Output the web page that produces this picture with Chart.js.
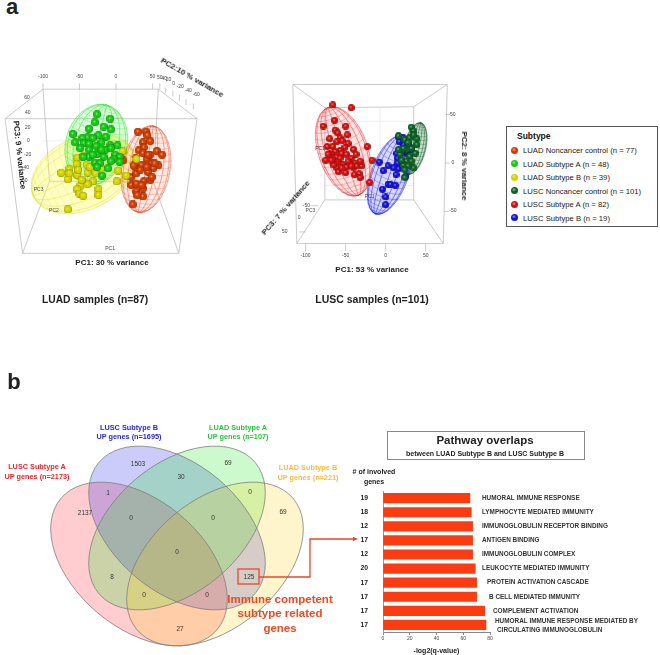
<!DOCTYPE html>
<html>
<head>
<meta charset="utf-8">
<script src="https://cdn.jsdelivr.net/npm/chart.js@4"></script>
<style>
  html, body { margin: 0; padding: 0; background: #fff; }
  body { width: 660px; height: 655px; position: relative; overflow: hidden; font-family: 'Liberation Sans', Arial, sans-serif; }
  canvas { position: absolute; }
  .t { position: absolute; white-space: nowrap; font-weight: bold; transform: translate(-50%, -50%); color: #222; line-height: 1; }
  #legend { position: absolute; left: 506px; top: 126px; width: 152px; height: 101px; border: 1px solid #555; box-sizing: border-box; }
  #legend b { position: absolute; left: 10px; top: 4px; font-size: 8.5px; color: #111; }
  .row { position: absolute; font-size: 7.7px; color: #222; white-space: nowrap; left: 16px; }
  .dot { position: absolute; left: 4px; width: 7px; height: 7px; border-radius: 50%; }
  #pathwayBox { position: absolute; left: 387px; top: 431px; width: 198px; height: 29px; border: 1px solid #888; box-sizing: border-box; }
</style>
</head>
<body>
<canvas id="luad" width="240" height="220" style="left:0;top:60px"></canvas>
<canvas id="lusc" width="240" height="240" style="left:240px;top:70px"></canvas>
<canvas id="venn" width="360" height="285" style="left:0;top:370px"></canvas>
<canvas id="bars" width="310" height="175" style="left:350px;top:480px"></canvas>
<div id="legend"><b>Subtype</b></div>
<div id="pathwayBox"></div>
<div id="labels"></div>
<script>
// PC scores: [PC1, vertical PC]
const luadControl = [[30,13],[41,13],[43,8],[47,0],[37,-2],[38,-9],[31,-13],[56,-14],[63,-19],[47,-19],[37,-17],[27,-24],[42,-25],[10,-27],[49,-31],[58,-34],[51,-38],[44,-43],[35,-33],[21,-50],[28,-45],[38,-56],[47,-54],[21,-61],[28,-70],[37,-77],[29,-75],[37,-66],[26,-36],[23,-88],[42,-36],[49,-50],[33,-40],[24,-34],[28,-59],[35,-61],[44,-19],[53,-31]]
const luadSubtypeA = [[-26,37],[-8,31],[-29,26],[-17,20],[-37,17],[-7,16],[-59,10],[-24,8],[-39,5],[-14,6],[-56,-2],[-46,4],[-32,4],[-44,-3],[-37,-4],[-20,-2],[-8,-6],[2,-6],[-27,-7],[-49,-10],[-37,-12],[-15,-12],[-26,-18],[-7,-10],[-17,-22],[-1,-19],[5,-22],[-29,-30],[-22,-31],[-3,-25],[-37,-22],[-11,-38],[5,-29],[-45,-22],[-19,-48],[-26,-36],[-7,-28],[-32,-19],[-20,-12]]
const luadSubtypeB = [[-75,-44],[-64,-39],[-53,-47],[-66,-53],[-64,-45],[-53,-23],[-45,-21],[-54,-32],[-40,-33],[-52,-40],[-39,-44],[-28,-45],[-32,-56],[-39,-60],[-49,-62],[-53,-67],[-50,-73],[-45,-76],[-24,-67],[-24,-75],[-66,-95],[1,-56],[14,-48],[9,-14],[28,-25],[3,-41],[-20,-38],[-47,-54],[-36,-36]]
const luscControl = [[16,28],[32,37],[35,33],[39,25],[24,24],[30,26],[39,19],[32,15],[26,14],[18,9],[30,7],[26,2],[22,-2],[35,-5],[24,-15],[28,21],[37,10],[22,15],[32,2],[20,3],[16,14],[28,-3],[24,-7],[35,29]]
const luscSubtypeA = [[-66,60],[-43,57],[-64,44],[-78,38],[-50,38],[-63,34],[-60,31],[-48,29],[-57,26],[-70,25],[-61,22],[-54,23],[-47,20],[-73,17],[-66,17],[-51,16],[-57,13],[-63,12],[-70,10],[-40,14],[-23,17],[-75,3],[-68,9],[-61,6],[-55,10],[-49,9],[-43,5],[-37,9],[-65,3],[-59,2],[-53,-2],[-45,-2],[-38,0],[-30,-3],[-61,-5],[-49,-4],[-40,-5],[-59,-9],[-50,-10],[-39,-12],[-33,-11],[-32,-15],[-17,3],[-20,-20],[-65,-2],[-47,2],[-36,-3],[-55,-5],[-68,3],[-43,-3],[-72,9],[-57,5],[-32,2]]
const luscSubtypeB = [[16,27],[22,26],[30,17],[14,10],[15,5],[15,0],[-8,1],[3,-3],[10,-5],[-3,-8],[16,-6],[13,-12],[25,-14],[3,-22],[6,-22],[12,-23],[-4,-27],[0,-35],[0,-43],[22,19],[26,10],[32,14],[17,22],[24,12]]

const legendNames = ['LUAD Noncancer control (n = 77)', 'LUAD Subtype A (n = 48)', 'LUAD Subtype B (n = 39)', 'LUSC Noncancer control (n = 101)', 'LUSC Subtype A (n = 82)', 'LUSC Subtype B (n = 19)']

const vennCounts = [1503, 69, 1, 30, 0, 2137, 0, 0, 69, 0, 8, 125, 0, 0, 27]

const pathways = ['HUMORAL IMMUNE RESPONSE', 'LYMPHOCYTE MEDIATED IMMUNITY', 'IMMUNOGLOBULIN RECEPTOR BINDING', 'ANTIGEN BINDING', 'IMMUNOGLOBULIN COMPLEX', 'LEUKOCYTE MEDIATED IMMUNITY', 'PROTEIN ACTIVATION CASCADE', 'B CELL MEDIATED IMMUNITY', 'COMPLEMENT ACTIVATION', 'HUMORAL IMMUNE RESPONSE MEDIATED BY']
const involvedGenes = [19, 18, 12, 17, 12, 20, 17, 17, 17, 17]
const logQ = [65, 66, 67, 67, 67, 69, 70, 70, 76, 77]

// layout and styling from here on
const colors = { orange: '#d23e00', green: '#14c814', yellow: '#d4d400', dark: '#0c6424', red: '#d01010', blue: '#1414d0' }

function mix (hex, f, toward) {
  const n = parseInt(hex.slice(1), 16)
  const ch = [n >> 16, (n >> 8) & 255, n & 255].map(v => Math.round(v + (toward - v) * f))
  return 'rgb(' + ch.join(',') + ')'
}

function sphere (color, size) {
  const c = document.createElement('canvas')
  c.width = c.height = size
  const g = c.getContext('2d')
  const r = size / 2
  const grad = g.createRadialGradient(r * 0.85, r * 0.8, 0.2, r, r, r)
  grad.addColorStop(0, mix(color, 0.55, 255))
  grad.addColorStop(0.35, color)
  grad.addColorStop(0.8, color)
  grad.addColorStop(1, mix(color, 0.4, 0))
  g.fillStyle = grad
  g.beginPath()
  g.arc(r, r, r, 0, Math.PI * 2)
  g.fill()
  return c
}

function mesh (ctx, e, cx, cy, a, b) {
  ctx.save()
  ctx.translate(cx, cy)
  ctx.rotate(e.tilt * Math.PI / 180)
  // long axis is the vertical one before the tilt
  ctx.beginPath()
  ctx.ellipse(0, 0, b, a, 0, 0, Math.PI * 2)
  ctx.fillStyle = e.fill
  ctx.fill()
  ctx.strokeStyle = e.line
  ctx.lineWidth = 0.5
  for (let i = 0; i <= 8; i++) {
    const k = Math.cos(i * Math.PI / 8)
    ctx.beginPath()
    ctx.ellipse(0, 0, Math.abs(b * k) + 0.01, a, 0, 0, Math.PI * 2)
    ctx.stroke()
  }
  for (let i = -9; i <= 9; i++) {
    const lat = i * Math.PI / 20
    ctx.beginPath()
    for (let t = 0; t <= 20; t++) {
      const s = -Math.PI / 2 + t * Math.PI / 20
      const px = b * Math.cos(lat) * Math.sin(s)
      const py = a * Math.sin(lat) + 0.12 * a * Math.cos(lat) * Math.cos(s)
      if (t === 0) ctx.moveTo(px, py); else ctx.lineTo(px, py)
    }
    ctx.stroke()
  }
  ctx.restore()
}

// draws the perspective box, mesh ellipsoids and the little tick labels behind the spheres
const boxPlugin = {
  id: 'box3d',
  beforeDatasetsDraw (chart, args, opts) {
    const ctx = chart.ctx
    const sx = chart.scales.x
    const sy = chart.scales.y
    const X = v => sx.getPixelForValue(v)
    const Y = v => sy.getPixelForValue(v)
    const unit = Math.abs(X(1) - X(0))
    ctx.save()
    ctx.lineWidth = 0.7
    ctx.strokeStyle = '#e4e6ea'
    opts.grid.forEach(l => {
      ctx.beginPath(); ctx.moveTo(X(l[0]), Y(l[1])); ctx.lineTo(X(l[2]), Y(l[3])); ctx.stroke()
    })
    ctx.strokeStyle = '#b5b5b5'
    opts.edges.forEach(l => {
      ctx.beginPath(); ctx.moveTo(X(l[0]), Y(l[1])); ctx.lineTo(X(l[2]), Y(l[3])); ctx.stroke()
    })
    opts.ellipses.forEach(e => mesh(ctx, e, X(e.c[0]), Y(e.c[1]), e.major * unit, e.minor * unit))
    ctx.font = '5px "Liberation Sans"'
    ctx.fillStyle = '#444'
    ctx.textAlign = 'center'
    ctx.textBaseline = 'middle'
    opts.ticks.forEach(t => ctx.fillText(t[0], X(t[1]), Y(t[2])))
    ctx.restore()
  }
}

function sphereSet (points, color, size) {
  return {
    data: points.map(p => ({ x: p[0], y: p[1] })),
    pointStyle: sphere(color, size),
    pointRadius: size / 2,
    showLine: false
  }
}

function plot3d (id, xRange, yRange, datasets, box) {
  return new Chart(document.getElementById(id), {
    type: 'scatter',
    data: { datasets: datasets },
    options: {
      responsive: false,
      animation: false,
      layout: { padding: 0, autoPadding: false },
      plugins: { legend: { display: false }, tooltip: { enabled: false }, box3d: box },
      scales: {
        x: { display: false, min: xRange[0], max: xRange[1] },
        y: { display: false, min: yRange[0], max: yRange[1] }
      }
    },
    plugins: [boxPlugin]
  })
}

plot3d('luad', [-158.9, 169.9], [-193, 112.5], [
  sphereSet(luadSubtypeA, colors.green, 8),
  sphereSet(luadSubtypeB, colors.yellow, 8),
  sphereSet(luadControl, colors.orange, 8)
], {
  edges: [[-152,31,111,31],[-152,31,-128,-156],[111,31,86,-156],[-128,-156,86,-156],[-152,31,-100,72],[111,31,58,72],[-100,72,58,72],[-128,-156,-91,-56],[86,-156,51,-56],[-91,-56,51,-56],[-100,72,-91,-56],[58,72,51,-56],
    [-100,72,-100,80],[-50,72,-50,80],[0,72,0,80],[50,72,50,80],[60,72,60,80],[68,66,68,74],[78,62,78,70],[87,56,87,64],[96,50,96,58],[106,44,106,52]],
  grid: [[0,72,0,-56],[-50,72,-50,-56],[-100,0,58,0]],
  ellipses: [
    { c: [-45, -45], major: 75, minor: 50, tilt: 65, fill: 'rgba(255,255,40,0.28)', line: 'rgba(225,225,60,0.45)' },
    { c: [-27, -5], major: 56, minor: 42, tilt: 15, fill: 'rgba(60,255,60,0.2)', line: 'rgba(60,225,60,0.55)' },
    { c: [41, -39], major: 60, minor: 33, tilt: 10, fill: 'rgba(255,90,50,0.12)', line: 'rgba(240,70,40,0.5)' }
  ],
  ticks: [['-100',-100,90],['-50',-50,90],['0',0,90],['50',50,90],['50',60,88],['40',66,87],['20',72,85],['0',79,80],['-20',88,75],['-40',99,70],['-60',110,64],
    ['60',-122,60],['40',-121,39],['20',-121,19],['0',-120,0],['-20',-121,-19],['-40',-124,-37],['-60',-126,-55],
    ['PC3',-106,-67],['PC2',-85,-97],['PC1',-8,-149]]
})

plot3d('lusc', [-182, 117.9], [-151.5, 95.9], [
  sphereSet(luscControl, colors.dark, 7),
  sphereSet(luscSubtypeB, colors.blue, 7),
  sphereSet(luscSubtypeA, colors.red, 7)
], {
  edges: [[-116,81,77,81],[-116,81,-111,-83],[77,81,72,-83],[-111,-83,72,-83],[-116,81,-76,57],[77,81,35,58],[-76,57,35,58],[-111,-83,-76,-38],[72,-83,35,-38],[-76,-38,35,-38],[-76,57,-76,-38],[35,58,35,-38],
    [-100,-83,-100,-91],[-50,-83,-50,-91],[0,-83,0,-91],[50,-83,50,-91],[75,50,81,50],[74,0,80,0],[73,-50,79,-50],[-94,-44,-84,-44],[-108,-71,-100,-71]],
  grid: [[-7,57,-7,-38],[-47,57,-47,-38],[33,43,-76,43],[-76,-23,35,-23]],
  ellipses: [
    { c: [36, 15], major: 33, minor: 14, tilt: 14, fill: 'rgba(20,110,40,0.25)', line: 'rgba(10,90,30,0.5)' },
    { c: [5, -12], major: 52, minor: 23, tilt: 20, fill: 'rgba(60,60,255,0.2)', line: 'rgba(30,30,235,0.55)' },
    { c: [-53, 12], major: 58, minor: 31, tilt: -19, fill: 'rgba(255,60,60,0.15)', line: 'rgba(235,40,40,0.5)' }
  ],
  ticks: [['-100',-100,-95.5],['-50',-50,-95.5],['0',0,-95.5],['50',50,-95.5],['50',84,50],['0',84,0],['-50',84,-49],
    ['-50',-99,-44],['0',-108,-56],['50',-126,-71],['PC3',-94,-49],['PC1',-82,15],['PC1',-20,-35]]
})

// venn: four rotated ellipses, counts sit on invisible scatter points
const vennCellX = [138, 228, 108, 181, 250, 85, 131, 213, 283, 177, 112, 249, 144, 207, 180]
const vennCellY = [94, 93, 123, 107, 122, 143, 148, 148, 142, 182, 207, 207, 225, 225, 259]
const vennShapes = [
  { cx: 139, cy: 194, tilt: 40, fill: 'rgba(255,0,20,0.2)' },
  { cx: 177, cy: 158, tilt: 40, fill: 'rgba(0,0,230,0.2)' },
  { cx: 177, cy: 158, tilt: -40, fill: 'rgba(0,230,0,0.2)' },
  { cx: 215, cy: 194, tilt: -40, fill: 'rgba(255,205,0,0.2)' }
]

const vennPlugin = {
  id: 'vennShapes',
  beforeDatasetsDraw (chart) {
    const ctx = chart.ctx
    const X = v => chart.scales.x.getPixelForValue(v)
    const Y = v => chart.scales.y.getPixelForValue(v)
    vennShapes.forEach(s => {
      ctx.save()
      ctx.beginPath()
      ctx.ellipse(X(s.cx), Y(s.cy), 102, 64, s.tilt * Math.PI / 180, 0, Math.PI * 2)
      ctx.fillStyle = s.fill
      ctx.fill()
      ctx.restore()
    })
    vennShapes.forEach(s => {
      ctx.beginPath()
      ctx.ellipse(X(s.cx), Y(s.cy), 102, 64, s.tilt * Math.PI / 180, 0, Math.PI * 2)
      ctx.strokeStyle = '#7d7d7d'
      ctx.lineWidth = 0.8
      ctx.stroke()
    })
  },
  afterDatasetsDraw (chart) {
    const ctx = chart.ctx
    const meta = chart.getDatasetMeta(0).data
    ctx.save()
    ctx.font = '6.5px "Liberation Sans"'
    ctx.fillStyle = '#333'
    ctx.textAlign = 'center'
    ctx.textBaseline = 'middle'
    vennCounts.forEach((n, i) => ctx.fillText(String(n), meta[i].x, meta[i].y))
    // box round 125 and the connector across to the bars
    ctx.strokeStyle = '#e8482a'
    ctx.lineWidth = 1.3
    ctx.strokeRect(238, 199, 21, 15)
    ctx.beginPath()
    ctx.moveTo(259, 207); ctx.lineTo(310, 207); ctx.lineTo(310, 169); ctx.lineTo(354, 169)
    ctx.stroke()
    ctx.fillStyle = '#e8482a'
    ctx.beginPath()
    ctx.moveTo(358, 169); ctx.lineTo(353, 166.8); ctx.lineTo(353, 171.2)
    ctx.fill()
    ctx.restore()
  }
}

new Chart(document.getElementById('venn'), {
  type: 'scatter',
  data: { datasets: [{ data: vennCounts.map((n, i) => ({ x: vennCellX[i], y: vennCellY[i] })), pointRadius: 0 }] },
  options: {
    responsive: false,
    animation: false,
    layout: { padding: 0, autoPadding: false },
    plugins: { legend: { display: false }, tooltip: { enabled: false } },
    scales: {
      x: { display: false, min: 0, max: 360 },
      y: { display: false, min: 0, max: 285, reverse: true }
    }
  },
  plugins: [vennPlugin]
})

// where each pathway name starts, measured from the axis
const nameOffset = [99, 99, 99, 99, 99, 99, 104, 106, 110, 112]

const pathwayNames = {
  id: 'pathwayNames',
  afterDraw (chart) {
    const ctx = chart.ctx
    const y = chart.scales.y
    ctx.save()
    ctx.font = 'bold 6.4px "Liberation Sans"'
    ctx.fillStyle = '#333'
    ctx.textBaseline = 'middle'
    pathways.forEach((name, i) => {
      const py = y.getPixelForValue(i)
      if (i === pathways.length - 1) {
        ctx.fillText(name, chart.chartArea.left + nameOffset[i], py - 3.5)
        ctx.fillText('CIRCULATING IMMUNOGLOBULIN', chart.chartArea.left + nameOffset[i] + 2, py + 4.8)
      } else {
        ctx.fillText(name, chart.chartArea.left + nameOffset[i], py)
      }
    })
    ctx.restore()
  }
}

new Chart(document.getElementById('bars'), {
  type: 'bar',
  data: { labels: pathways, datasets: [{ data: logQ, backgroundColor: '#fb3c12', barThickness: 9.5 }] },
  options: {
    indexAxis: 'y',
    responsive: false,
    animation: false,
    layout: { padding: { top: 7, right: 170, left: 0, bottom: 0 } },
    plugins: { legend: { display: false }, tooltip: { enabled: false } },
    scales: {
      x: {
        min: 0,
        max: 80,
        afterFit: s => { s.height = 23 },
        border: { color: '#888' },
        grid: { drawOnChartArea: false, tickLength: 3, color: '#888' },
        ticks: { stepSize: 20, maxRotation: 0, padding: 1, color: '#444', font: { family: 'Liberation Sans', size: 5 } },
        title: { display: true, text: '-log2(q-value)', color: '#222', padding: { top: 2, bottom: 0 }, font: { family: 'Liberation Sans', size: 7, weight: 'bold' } }
      },
      y: {
        afterFit: s => { s.width = 33 },
        border: { color: '#999' },
        grid: { display: false },
        ticks: {
          autoSkip: false,
          padding: 7,
          color: '#222',
          font: { family: 'Liberation Sans', size: 6.8, weight: 'bold' },
          callback: (v, i) => String(involvedGenes[i])
        }
      }
    }
  },
  plugins: [pathwayNames]
})

// html text
const labelHost = document.getElementById('labels')
function label (text, x, y, size, rotate, color) {
  const el = document.createElement('div')
  el.className = 't'
  el.textContent = text
  el.style.left = x + 'px'
  el.style.top = y + 'px'
  el.style.fontSize = size + 'px'
  if (rotate) el.style.transform = 'translate(-50%, -50%) rotate(' + rotate + 'deg)'
  if (color) el.style.color = color
  labelHost.appendChild(el)
}

label('a', 12, 7, 22)
label('b', 14, 382, 22)
label('PC1: 30 % variance', 112, 263, 8)
label('PC2:10 % variance', 192, 78, 8, 30)
label('PC3: 9 % variance', 19, 155, 8, 84)
label('LUAD samples (n=87)', 95, 300, 10.3)
label('PC1: 53 % variance', 372, 270, 8)
label('PC2: 8 % variance', 464, 166, 8, 90)
label('PC3: 7 % variance', 286, 208, 8, -49)
label('LUSC samples (n=101)', 372, 299, 10.5)

label('LUSC Subtype B', 129, 428, 7.3, 0, '#2a2ad0')
label('UP genes (n=1695)', 129, 437, 7.3, 0, '#2a2ad0')
label('LUAD Subtype A', 238, 428, 7.3, 0, '#2fc23f')
label('UP genes (n=107)', 238, 437, 7.3, 0, '#2fc23f')
label('LUSC Subtype A', 37, 467, 7.3, 0, '#e8262c')
label('UP genes (n=2173)', 37, 477, 7.3, 0, '#e8262c')
label('LUAD Subtype B', 308, 468, 7.3, 0, '#fbbc3c')
label('UP genes (n=221)', 308, 478, 7.3, 0, '#fbbc3c')
label('Immune competent', 280, 600, 11.5, 0, '#ea4a24')
label('subtype related', 280, 614, 11.5, 0, '#ea4a24')
label('genes', 280, 629, 11.5, 0, '#ea4a24')

label('Pathway overlaps', 485, 441, 11.5)
label('between   LUAD Subtype B and LUSC Subtype B', 485, 452.5, 7)
label('# of involved', 374, 471, 7)
label('genes', 374, 481, 7)

// legend
const legendColors = [colors.orange, colors.green, colors.yellow, colors.dark, colors.red, colors.blue]
const legend = document.getElementById('legend')
legendNames.forEach((name, i) => {
  const top = 19.5 + i * 13.5
  const dot = document.createElement('div')
  dot.className = 'dot'
  dot.style.top = top + 'px'
  dot.style.background = 'radial-gradient(circle at 42% 38%, ' + mix(legendColors[i], 0.55, 255) + ' 0%, ' + legendColors[i] + ' 35%, ' + legendColors[i] + ' 80%, ' + mix(legendColors[i], 0.4, 0) + ' 100%)'
  legend.appendChild(dot)
  const row = document.createElement('div')
  row.className = 'row'
  row.textContent = name
  row.style.top = (top - 0.5) + 'px'
  legend.appendChild(row)
})
</script>
</body>
</html>
